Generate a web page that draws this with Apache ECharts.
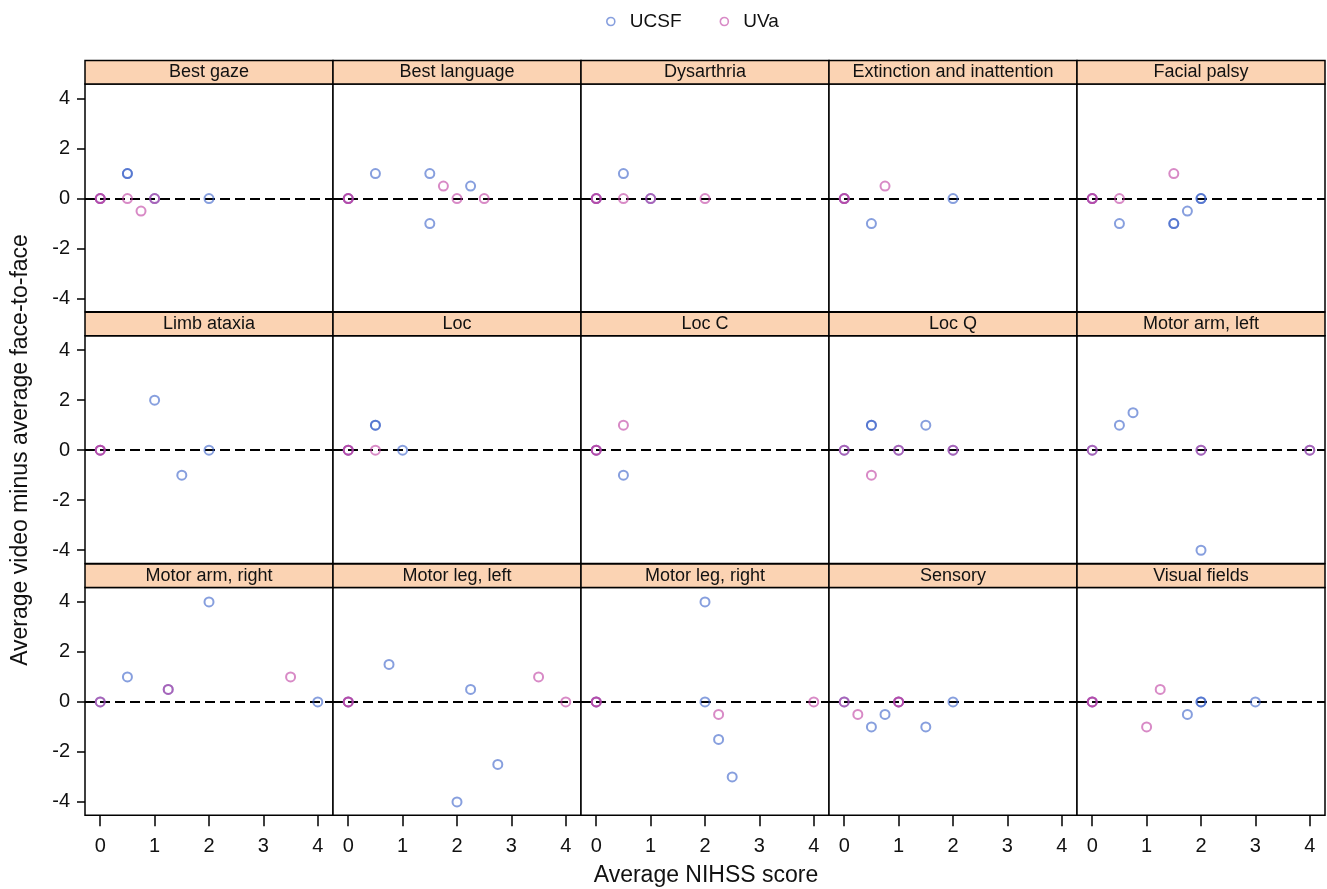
<!DOCTYPE html>
<html>
<head>
<meta charset="utf-8">
<script src="https://cdn.jsdelivr.net/npm/echarts@6/dist/echarts.min.js"></script>
<style>
  html, body { margin: 0; padding: 0; background: #fff; }
  #chart { width: 1327px; height: 889px; }
</style>
</head>
<body>
<div id="chart"></div>
<script>
// ---- Data ----
const panelTitles = [
  'Best gaze', 'Best language', 'Dysarthria', 'Extinction and inattention', 'Facial palsy',
  'Limb ataxia', 'Loc', 'Loc C', 'Loc Q', 'Motor arm, left',
  'Motor arm, right', 'Motor leg, left', 'Motor leg, right', 'Sensory', 'Visual fields'
];
const seriesNames = ['UCSF', 'UVa'];
const xTickValues = [0, 1, 2, 3, 4];
const yTickValues = [-4, -2, 0, 2, 4];

// [Average NIHSS score, Average video minus average face-to-face]
const ucsfPoints = [
  [[0,0],[0.5,1],[0.5,1],[1,0],[2,0]],
  [[0,0],[0.5,1],[1.5,1],[1.5,-1],[2.25,0.5]],
  [[0,0],[0.5,1],[1,0]],
  [[0,0],[0.5,-1],[2,0]],
  [[0,0],[0.5,-1],[1.5,-1],[1.5,-1],[1.75,-0.5],[2,0],[2,0]],
  [[0,0],[1,2],[1.5,-1],[2,0]],
  [[0,0],[0.5,1],[0.5,1],[1,0]],
  [[0,0],[0.5,-1]],
  [[0,0],[0.5,1],[0.5,1],[1,0],[1.5,1],[2,0]],
  [[0,0],[0.5,1],[0.75,1.5],[2,0],[2,-4],[4,0]],
  [[0,0],[0.5,1],[1.25,0.5],[2,4],[4,0]],
  [[0,0],[0.75,1.5],[2,-4],[2.25,0.5],[2.75,-2.5]],
  [[0,0],[2,4],[2,0],[2.25,-1.5],[2.5,-3]],
  [[0,0],[0.5,-1],[0.75,-0.5],[1,0],[1.5,-1],[2,0]],
  [[0,0],[1.75,-0.5],[2,0],[2,0],[3,0]]
];
const uvaPoints = [
  [[0,0],[0,0],[0.5,0],[0.75,-0.5],[1,0]],
  [[0,0],[0,0],[1.75,0.5],[2,0],[2.5,0]],
  [[0,0],[0,0],[0.5,0],[1,0],[2,0]],
  [[0,0],[0,0],[0.75,0.5]],
  [[0,0],[0,0],[0.5,0],[1.5,1]],
  [[0,0],[0,0]],
  [[0,0],[0,0],[0.5,0]],
  [[0,0],[0,0],[0.5,1]],
  [[0,0],[0.5,-1],[1,0],[2,0]],
  [[0,0],[2,0],[4,0]],
  [[0,0],[1.25,0.5],[3.5,1]],
  [[0,0],[0,0],[3.5,1],[4,0]],
  [[0,0],[0,0],[2.25,-0.5],[4,0]],
  [[0,0],[0.25,-0.5],[1,0],[1,0]],
  [[0,0],[0,0],[1,-1],[1.25,0.5]]
];

// ---- Layout / style ----
const FONT = 'Liberation Sans, Arial, sans-serif';
const colors = ['rgba(55,95,200,0.75)', 'rgba(190,60,160,0.75)'];
const nCols = 5, nRows = 3;
const gLeft = 85, gWidth = 248;
const gTop0 = 84, rowPitch = 251.7, gHeight = 227.8, stripH = 23.5;
const xMin = -0.28, xMax = 4.28, yMin = -4.53, yMax = 4.58;

const grids = [], xAxes = [], yAxes = [], series = [], graphics = [];

panelTitles.forEach((title, i) => {
  const r = Math.floor(i / nCols), c = i % nCols;
  const left = gLeft + gWidth * c;
  const top = gTop0 + rowPitch * r;
  grids.push({
    left: left, top: top, width: gWidth, height: gHeight,
    show: true, borderColor: '#000', borderWidth: 1.5, backgroundColor: '#fff'
  });
  const bottomRow = r === nRows - 1, leftCol = c === 0;
  xAxes.push({
    type: 'value', gridIndex: i, min: xMin, max: xMax, position: 'bottom',
    splitLine: { show: false },
    axisLine: { show: false, onZero: false },
    axisTick: { show: bottomRow, customValues: xTickValues, length: 11, inside: false,
                lineStyle: { color: '#000', width: 1.5 } },
    axisLabel: { show: bottomRow, customValues: xTickValues, margin: 21,
                 fontSize: 20, color: '#111', fontFamily: FONT }
  });
  yAxes.push({
    type: 'value', gridIndex: i, min: yMin, max: yMax, position: 'left',
    splitLine: { show: false },
    axisLine: { show: false, onZero: false },
    axisTick: { show: leftCol, customValues: yTickValues, length: 8, inside: false,
                lineStyle: { color: '#000', width: 1.5 } },
    axisLabel: { show: leftCol, customValues: yTickValues, margin: 15,
                 fontSize: 20, color: '#111', fontFamily: FONT }
  });
  // strip header
  graphics.push({
    type: 'rect', z: 10,
    shape: { x: left, y: top - stripH, width: gWidth, height: stripH },
    style: { fill: '#fbd3b3', stroke: '#000', lineWidth: 1.5 }
  });
  graphics.push({
    type: 'text', z: 11,
    x: left + gWidth / 2, y: top - stripH / 2,
    style: { text: title, fill: '#111', font: '18px ' + FONT, align: 'center', verticalAlign: 'middle' }
  });
  [ucsfPoints[i], uvaPoints[i]].forEach((pts, s) => {
    series.push({
      name: seriesNames[s], type: 'scatter', xAxisIndex: i, yAxisIndex: i,
      data: pts, symbol: 'circle', symbolSize: 9,
      itemStyle: { color: 'rgba(0,0,0,0)', borderColor: colors[s], borderWidth: 2 },
      emphasis: { disabled: true },
      z: 3,
      markLine: s === 0 ? {
        silent: true, symbol: 'none', label: { show: false },
        lineStyle: { color: '#000', type: [10, 5], width: 1.8 },
        data: [{ yAxis: 0 }], z: 2
      } : undefined
    });
  });
});

// axis titles
graphics.push({
  type: 'text', x: 706, y: 876,
  style: { text: 'Average NIHSS score', fill: '#111', font: '23px ' + FONT, align: 'center', verticalAlign: 'middle' }
});
graphics.push({
  type: 'text', x: 21, y: 450, rotation: Math.PI / 2,
  style: { text: 'Average video minus average face-to-face', fill: '#111', font: '23px ' + FONT, align: 'center', verticalAlign: 'middle' }
});

const chart = echarts.init(document.getElementById('chart'), null, { renderer: 'canvas' });
chart.setOption({
  backgroundColor: '#fff',
  animation: false,
  legend: {
    top: 7, left: 601, itemGap: 38, itemWidth: 8, itemHeight: 8,
    textStyle: { fontSize: 19, color: '#111', fontFamily: FONT, padding: [0, 0, 0, 10] },
    data: seriesNames.map((n, s) => ({
      name: n, icon: 'circle',
      itemStyle: { color: 'rgba(0,0,0,0)', borderColor: colors[s], borderWidth: 1.6 }
    }))
  },
  grid: grids,
  xAxis: xAxes,
  yAxis: yAxes,
  series: series,
  graphic: graphics
});
</script>
</body>
</html>
